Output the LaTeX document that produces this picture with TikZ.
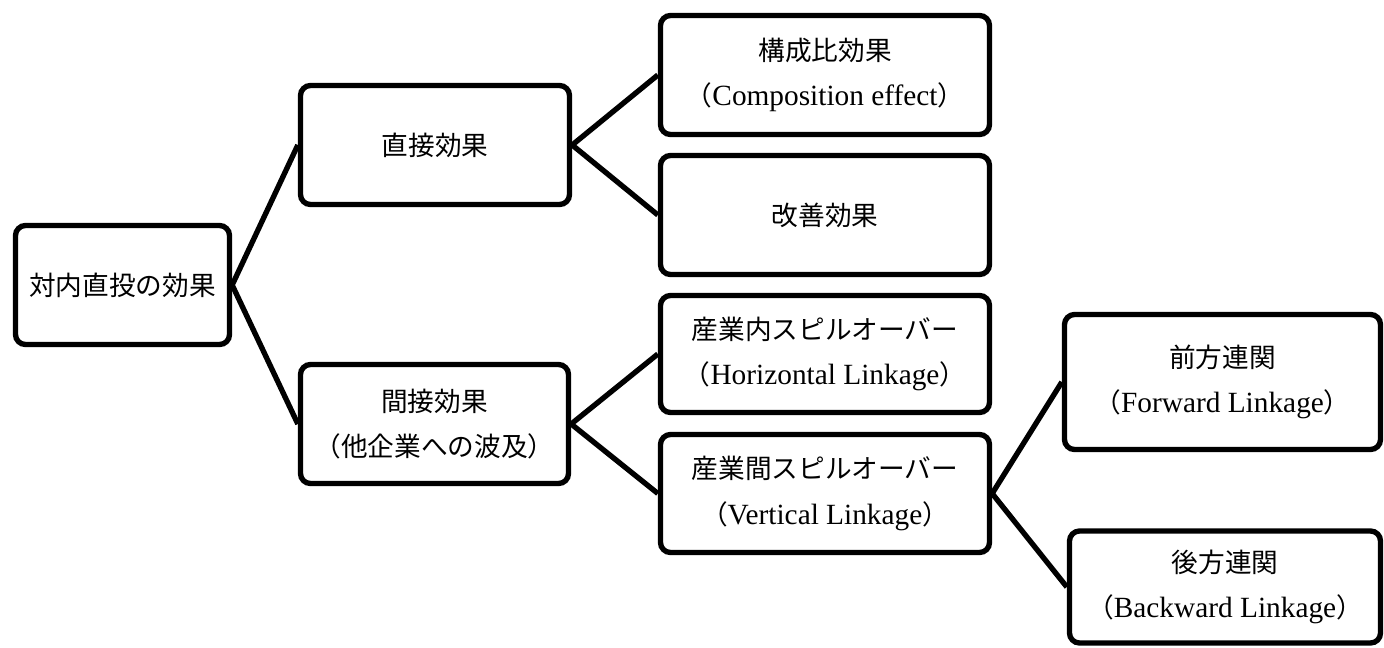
\documentclass[tikz,border=0pt]{standalone}
\usepackage{fontspec}
\setmainfont{Liberation Serif}[Scale=1.1]
\newfontfamily\jp{Noto Sans CJK JP}
\newcommand{\jpo}{{\jp （}}
\newcommand{\jpc}{{\jp ）}}
\begin{document}
\begin{tikzpicture}[x=0.75pt,y=-0.75pt,
  box/.style={draw=black, line width=4pt, rounded corners=7.5pt,
    inner sep=0pt, align=center, fill=white,
    font=\fontsize{20pt}{34pt}\selectfont},
  link/.style={line width=4pt, black}]
  \useasboundingbox (0,0) rectangle (1384,647);

  % root
  \node[box, minimum width=160.5pt, minimum height=89.25pt] (root) at (122.5,285) {\jp 対内直投の効果};

  % first level
  \node[box, minimum width=201.75pt, minimum height=89.25pt] (direct) at (435,145) {\jp 直接効果};
  \node[box, minimum width=201pt, minimum height=89.25pt] (indirect) at (434.5,424)
    {\jp 間接効果\\\jp （他企業への波及）};

  % second level
  \node[box, minimum width=246.75pt, minimum height=89.25pt] (comp) at (825,75)
    {\jp 構成比効果\\\jpo Composition effect\jpc};
  \node[box, minimum width=246.75pt, minimum height=89.25pt] (improve) at (825,215) {\jp 改善効果};
  \node[box, minimum width=246.75pt, minimum height=87.75pt] (intra) at (825,354)
    {\jp 産業内スピルオーバー\\\jpo Horizontal Linkage\jpc};
  \node[box, minimum width=246.75pt, minimum height=88.5pt] (inter) at (825,493.5)
    {\jp 産業間スピルオーバー\\\jpo Vertical Linkage\jpc};

  % third level
  \node[box, minimum width=237pt, minimum height=101.25pt] (fwd) at (1222.5,382)
    {\jp 前方連関\\\jpo Forward Linkage\jpc};
  \node[box, minimum width=233.25pt, minimum height=84pt] (bwd) at (1225,587)
    {\jp 後方連関\\\jpo Backward Linkage\jpc};

  % connectors
  \draw[link] (root.east) -- (direct.west);
  \draw[link] (root.east) -- (indirect.west);
  \draw[link] (direct.east) -- (comp.west);
  \draw[link] (direct.east) -- (improve.west);
  \draw[link] (indirect.east) -- (intra.west);
  \draw[link] (indirect.east) -- (inter.west);
  \draw[link] (inter.east) -- (fwd.west);
  \draw[link] (inter.east) -- (bwd.west);
\end{tikzpicture}
\end{document}
